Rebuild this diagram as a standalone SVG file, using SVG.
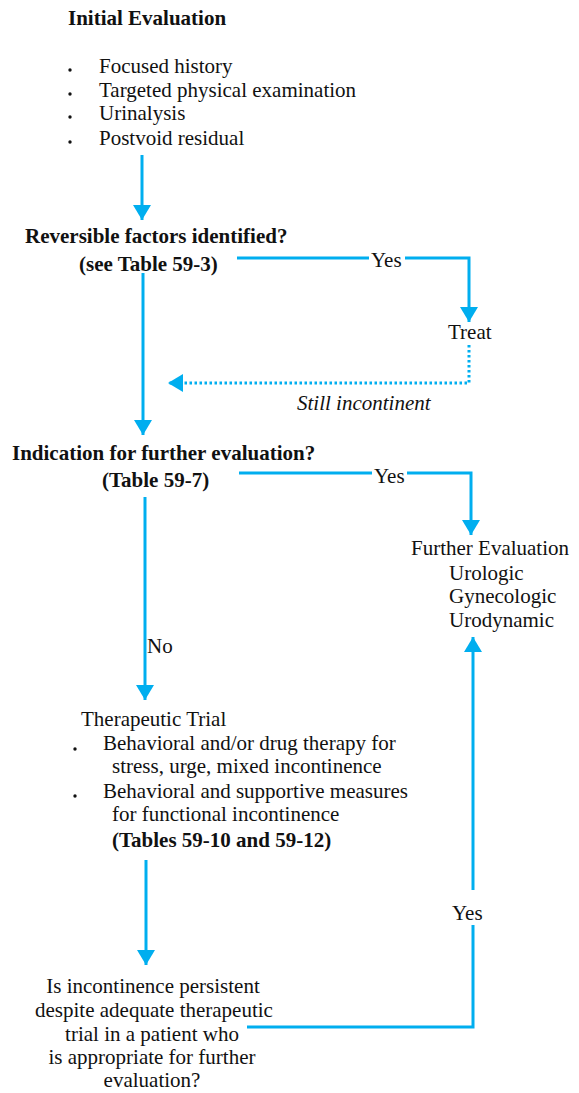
<svg xmlns="http://www.w3.org/2000/svg" width="579" height="1093" viewBox="0 0 579 1093">
<style>
text{font-family:"Liberation Serif","Times New Roman",serif;font-size:21px;fill:#111}
.b{font-weight:bold}
.i{font-style:italic}
.m{text-anchor:middle}
.c{fill:none;stroke:#00AEEF;stroke-width:3}
.d{fill:none;stroke:#00AEEF;stroke-width:3;stroke-dasharray:2.5 2.5}
.dot{fill:#111}
</style>
<defs>
<marker id="ah" markerUnits="userSpaceOnUse" markerWidth="18" markerHeight="18" refX="15" refY="9" orient="auto" viewBox="0 0 15 18">
<path d="M0,0 L15,9 L0,18 Z" fill="#00AEEF"/>
</marker>
</defs>
<rect width="579" height="1093" fill="#fff"/>
<g id="connectors">
<path class="c" d="M142,155 V220" marker-end="url(#ah)"/>
<path class="c" d="M237,258 H369"/>
<path class="c" d="M405,258 H469 V322" marker-end="url(#ah)"/>
<path class="c" d="M143,273 V435" marker-end="url(#ah)"/>
<path class="d" d="M469,345 V383 H168" marker-end="url(#ah)"/>
<path class="c" d="M239,473 H372"/>
<path class="c" d="M407,473 H471 V535" marker-end="url(#ah)"/>
<path class="c" d="M145,497 V700" marker-end="url(#ah)"/>
<path class="c" d="M146,860 V965" marker-end="url(#ah)"/>
<path class="c" d="M247,1027 H473 V925"/>
<path class="c" d="M473,890 V637" marker-end="url(#ah)"/>
</g>
<g id="initial-evaluation">
<text class="b" x="68" y="25">Initial Evaluation</text>
<circle class="dot" cx="70" cy="70" r="1.7"/>
<circle class="dot" cx="70" cy="94" r="1.7"/>
<circle class="dot" cx="70" cy="117" r="1.7"/>
<circle class="dot" cx="70" cy="142" r="1.7"/>
<text x="99" y="73">Focused history</text>
<text x="99" y="97">Targeted physical examination</text>
<text x="99" y="120">Urinalysis</text>
<text x="99" y="145">Postvoid residual</text>
</g>
<g id="reversible-factors">
<text class="b" x="25" y="243">Reversible factors identified?</text>
<text class="b" x="79" y="271">(see Table 59-3)</text>
</g>
<g id="label-yes-1"><text x="371" y="267">Yes</text></g>
<g id="treat"><text x="448" y="339">Treat</text></g>
<g id="label-still-incontinent"><text class="i" x="297" y="410">Still incontinent</text></g>
<g id="indication">
<text class="b" x="12" y="460">Indication for further evaluation?</text>
<text class="b" x="102" y="487">(Table 59-7)</text>
</g>
<g id="label-yes-2"><text x="374" y="483">Yes</text></g>
<g id="further-evaluation">
<text x="411" y="555">Further Evaluation</text>
<text x="449" y="580">Urologic</text>
<text x="449" y="603">Gynecologic</text>
<text x="449" y="627">Urodynamic</text>
</g>
<g id="label-no"><text x="147" y="653">No</text></g>
<g id="therapeutic-trial">
<text x="81" y="726">Therapeutic Trial</text>
<circle class="dot" cx="75" cy="749" r="1.7"/>
<circle class="dot" cx="75" cy="796" r="1.7"/>
<text x="103" y="750">Behavioral and/or drug therapy for</text>
<text x="112" y="773">stress, urge, mixed incontinence</text>
<text x="103" y="798">Behavioral and supportive measures</text>
<text x="112" y="821">for functional incontinence</text>
<text class="b" x="112" y="847">(Tables 59-10 and 59-12)</text>
</g>
<g id="label-yes-3"><text x="452" y="920">Yes</text></g>
<g id="persistent">
<text class="m" x="153" y="993">Is incontinence persistent</text>
<text class="m" x="154" y="1017">despite adequate therapeutic</text>
<text class="m" x="152" y="1041">trial in a patient who</text>
<text class="m" x="152" y="1064">is appropriate for further</text>
<text class="m" x="152" y="1087">evaluation?</text>
</g>
</svg>
